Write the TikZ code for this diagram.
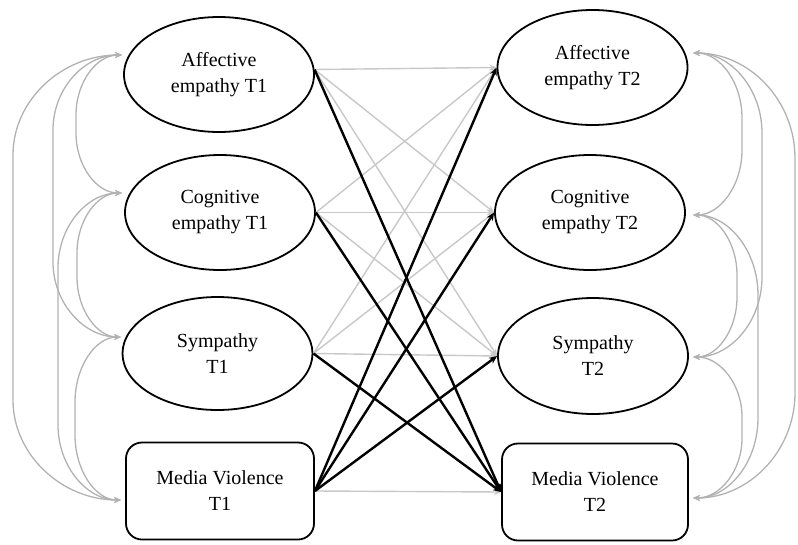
\documentclass[tikz,border=0pt]{standalone}
\usepackage{fontspec}
\setmainfont{Liberation Serif}
\usetikzlibrary{shapes.geometric,arrows.meta,calc}
\definecolor{pathgray}{RGB}{200,200,200}
\definecolor{covgray}{RGB}{178,178,178}
% #1 from, #2 to, #3 x of tips, #4 y of from, #5 y of to, #6 extreme x, #7 corner size
\newcommand\covpath[7]{%
  \draw[cov] (#1) .. controls ({#6+0.45*(#3-#6)},#4) and (#6,{#4+0.45*#7}) .. (#6,{#4+#7})
    -- (#6,{#5-#7}) .. controls (#6,{#5-0.45*#7}) and ({#6+0.45*(#3-#6)},#5) .. (#2);}
\begin{document}
\begin{tikzpicture}[x=1pt,y=-1pt,
  font=\fontsize{20}{26}\selectfont,
  lat/.style={ellipse,draw,fill=white,line width=1.8pt,minimum width=190pt,minimum height=115pt,inner sep=0pt,align=center},
  obs/.style={rectangle,rounded corners=16pt,draw,fill=white,line width=1.8pt,minimum width=188pt,minimum height=97pt,inner sep=0pt,align=center},
  gpath/.style={draw=pathgray,line width=1.4pt,-{Stealth[length=7pt,width=6pt]}},
  bpath/.style={draw=black,line width=2.4pt,-{Stealth[length=8pt,width=7pt]}},
  cov/.style={draw=covgray,line width=1.3pt,{Stealth[length=7pt,width=6pt]}-{Stealth[length=7pt,width=6pt]}}]
\useasboundingbox (0,0) rectangle (798,544);

% nodes
\node[lat] (a1) at (219,74.5) {Affective\\empathy T1};
\node[lat] (c1) at (220,212.5) {Cognitive\\empathy T1};
\node[lat,minimum height=113pt] (s1) at (217.5,353.5) {Sympathy\\T1};
\node[obs] (m1) at (220,491) {Media Violence\\T1};
\node[lat] (a2) at (592.5,67.5) {Affective\\empathy T2};
\node[lat] (c2) at (590,212.5) {Cognitive\\empathy T2};
\node[lat,minimum height=116pt] (s2) at (593,356) {Sympathy\\T2};
\node[obs,minimum width=186pt] (m2) at (595,492) {Media Violence\\T2};

% gray paths
\draw[gpath] (a1.3) -- (a2.west);
\draw[gpath] (a1.3) -- (c2.west);
\draw[gpath] (a1.3) -- (s2.west);
\draw[gpath] (c1.east) -- (a2.west);
\draw[gpath] (c1.east) -- (c2.west);
\draw[gpath] (c1.east) -- (s2.west);
\draw[gpath] (s1.east) -- (a2.west);
\draw[gpath] (s1.east) -- (c2.west);
\draw[gpath] (s1.east) -- (s2.west);
\draw[gpath] (m1.east) -- (m2.west);

% black paths
\draw[bpath] (a1.3) -- (m2.west);
\draw[bpath] (c1.east) -- (m2.west);
\draw[bpath] (s1.east) -- (m2.west);
\draw[bpath] (m1.east) -- (a2.west);
\draw[bpath] (m1.east) -- (c2.west);
\draw[bpath] (m1.east) -- (s2.west);

% covariance tips
\coordinate (la) at (122,55);
\coordinate (lc) at (122,193);
\coordinate (ls) at (121,337);
\coordinate (lm) at (121,500);
\coordinate (ra) at (693,53);
\coordinate (rc) at (693,215);
\coordinate (rs) at (693,357);
\coordinate (rm) at (693,498);

% left covariances
\covpath{la}{lc}{122}{55}{193}{76}{60}
\covpath{la}{ls}{122}{55}{337}{53}{75}
\covpath{la}{lm}{122}{55}{500}{13}{100}
\covpath{lc}{ls}{122}{193}{337}{77}{60}
\covpath{lc}{lm}{122}{193}{500}{58}{75}
\covpath{ls}{lm}{121}{337}{500}{75}{65}

% right covariances
\covpath{ra}{rc}{693}{53}{215}{742}{65}
\covpath{ra}{rs}{693}{53}{357}{762}{80}
\covpath{ra}{rm}{693}{53}{498}{795}{105}
\covpath{rc}{rs}{693}{215}{357}{737}{60}
\covpath{rc}{rm}{693}{215}{498}{758}{80}
\covpath{rs}{rm}{693}{357}{498}{742}{60}
\end{tikzpicture}
\end{document}
